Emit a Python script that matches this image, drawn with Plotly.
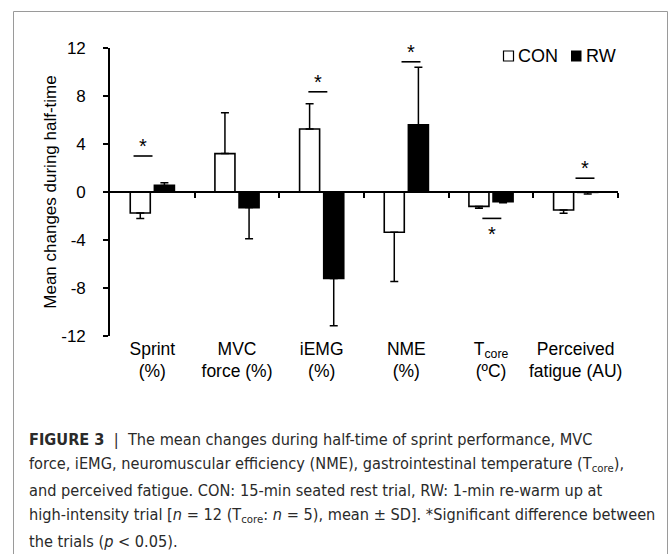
import plotly.graph_objects as go

# ---------------- data ----------------
categories = ["Sprint<br>(%)", "MVC<br>force (%)", "iEMG<br>(%)", "NME<br>(%)",
              "T<sub>core</sub><br>(ºC)", "Perceived<br>fatigue (AU)"]
con_mean = [-1.75, 3.2, 5.25, -3.35, -1.2, -1.5]
con_sd = [0.45, 3.4, 2.1, 4.1, 0.15, 0.28]
rw_mean = [0.55, -1.3, -7.2, 5.6, -0.8, -0.03]
rw_sd = [0.23, 2.6, 3.95, 4.8, 0.1, 0.14]

# significance markers: category index, horizontal offset, bar height, side
sig_cat = [0, 2, 3, 4, 5]
sig_dx = [-0.11, -0.045, 0.055, 0.01, 0.11]
sig_y = [3.0, 8.35, 10.85, -2.2, 1.15]
sig_side = ["above", "above", "above", "below", "above"]

y_ticks = [-12, -8, -4, 0, 4, 8, 12]
y_ticktext = ["-12", "-8", "-4", "0", "4", "8", "12"]

# ---------------- figure ----------------
W, H = 668, 554
ML, MR, MT, MB = 110, 50, 48, 218
PW, PH = W - ML - MR, H - MT - MB

def px_x(p):
    return (p - ML) / PW

def px_y(p):
    return (H - MB - p) / PH

FONT = "Liberation Sans, Arial, sans-serif"
CAP_FONT = "DejaVu Sans Condensed, Liberation Sans Narrow, Liberation Sans, sans-serif"

xs = list(range(len(categories)))

def one_sided(means, sds):
    up = [s if m >= 0 else 0 for m, s in zip(means, sds)]
    down = [s if m < 0 else 0 for m, s in zip(means, sds)]
    return up, down

con_up, con_down = one_sided(con_mean, con_sd)
rw_up, rw_down = one_sided(rw_mean, rw_sd)

fig = go.Figure()
fig.add_trace(go.Bar(
    x=xs, y=con_mean, name="CON",
    marker=dict(color="white", line=dict(color="black", width=1.6)),
    error_y=dict(type="data", symmetric=False, array=con_up, arrayminus=con_down,
                 color="black", thickness=1.5, width=4),
    showlegend=False,
))
fig.add_trace(go.Bar(
    x=xs, y=rw_mean, name="RW",
    marker=dict(color="black", line=dict(color="black", width=1.6)),
    error_y=dict(type="data", symmetric=False, array=rw_up, arrayminus=rw_down,
                 color="black", thickness=1.5, width=4),
    showlegend=False,
))
# invisible trace so the overlay axis (the x axis line at y = 0) is drawn
fig.add_trace(go.Scatter(x=[-0.5, 5.5], y=[0, 0], xaxis="x2", mode="lines",
                         line=dict(width=0, color="rgba(0,0,0,0)"),
                         hoverinfo="skip", showlegend=False))

shapes = []
annotations = []

# significance lines and asterisks
half = 0.112
for c, dx, yv, side in zip(sig_cat, sig_dx, sig_y, sig_side):
    xc = c + dx
    shapes.append(dict(type="line", xref="x", yref="y", x0=xc - half, x1=xc + half,
                       y0=yv, y1=yv, line=dict(color="black", width=1.6)))
    if side == "above":
        annotations.append(dict(x=xc, y=yv, xref="x", yref="y", text="*",
                                showarrow=False, yanchor="bottom", yshift=-3,
                                font=dict(family=FONT, size=20, color="black")))
    else:
        annotations.append(dict(x=xc, y=yv, xref="x", yref="y", text="*",
                                showarrow=False, yanchor="top", yshift=-3,
                                font=dict(family=FONT, size=20, color="black")))

# legend (open / filled squares + labels)
shapes.append(dict(type="rect", xref="paper", yref="paper",
                   x0=px_x(503.5), x1=px_x(513.5), y0=px_y(61), y1=px_y(51),
                   line=dict(color="black", width=1.2), fillcolor="white"))
shapes.append(dict(type="rect", xref="paper", yref="paper",
                   x0=px_x(571), x1=px_x(581.5), y0=px_y(61.5), y1=px_y(50.5),
                   line=dict(color="black", width=0), fillcolor="black"))
annotations.append(dict(x=px_x(516), y=px_y(56), xref="paper", yref="paper",
                        text="CON", showarrow=False, xanchor="left", yanchor="middle",
                        font=dict(family=FONT, size=18, color="black")))
annotations.append(dict(x=px_x(584), y=px_y(56), xref="paper", yref="paper",
                        text="RW", showarrow=False, xanchor="left", yanchor="middle",
                        font=dict(family=FONT, size=18, color="black")))

# outer frame (left, top, right edges)
frame = dict(color="#9a9a9a", width=1)
shapes.append(dict(type="line", xref="paper", yref="paper",
                   x0=px_x(13.5), x1=px_x(13.5), y0=px_y(554), y1=px_y(11.5), line=frame))
shapes.append(dict(type="line", xref="paper", yref="paper",
                   x0=px_x(13.5), x1=px_x(667.5), y0=px_y(11.5), y1=px_y(11.5), line=frame))
shapes.append(dict(type="line", xref="paper", yref="paper",
                   x0=px_x(667.5), x1=px_x(667.5), y0=px_y(554), y1=px_y(11.5), line=frame))

# caption
caption_lines = [
    "<b>FIGURE 3</b>&nbsp;&nbsp;|&nbsp;&nbsp;The mean changes during half-time of sprint performance, MVC",
    "force, iEMG, neuromuscular efficiency (NME), gastrointestinal temperature (T<sub>core</sub>),",
    "and perceived fatigue. CON: 15-min seated rest trial, RW: 1-min re-warm up at",
    "high-intensity trial [<i>n</i> = 12 (T<sub>core</sub>: <i>n</i> = 5), mean ± SD]. *Significant difference between",
    "the trials (<i>p</i> &lt; 0.05).",
]
cap_y = [439, 464.5, 490, 515.5, 541]
for txt, yy in zip(caption_lines, cap_y):
    annotations.append(dict(x=px_x(27), y=px_y(yy), xref="paper", yref="paper",
                            text=txt, showarrow=False, xanchor="left", yanchor="middle",
                            align="left",
                            font=dict(family=CAP_FONT, size=16.2, color="#2a2a2a")))

fig.update_layout(
    width=W, height=H,
    margin=dict(l=ML, r=MR, t=MT, b=MB, pad=0, autoexpand=False),
    paper_bgcolor="white", plot_bgcolor="white",
    barmode="group", bargap=0.43, bargroupgap=0.17,
    font=dict(family=FONT, size=17, color="black"),
    xaxis=dict(range=[-0.5, 5.5], tickvals=xs, ticktext=categories,
               showline=False, ticks="", showgrid=False, zeroline=False,
               tickfont=dict(family=FONT, size=17.5, color="black")),
    xaxis2=dict(overlaying="x", anchor="free", position=0.5, side="bottom",
                range=[-0.5, 5.5], tickvals=[0.5, 1.5, 2.5, 3.5, 4.5, 5.5],
                showticklabels=False, ticks="outside", ticklen=5, tickwidth=1.5,
                tickcolor="black", showline=True, linecolor="black", linewidth=1.6,
                showgrid=False, zeroline=False),
    yaxis=dict(range=[-12, 12], tickvals=y_ticks, ticktext=y_ticktext,
               ticks="outside", ticklen=5,
               tickwidth=1.5, tickcolor="black", showline=True, linecolor="black",
               linewidth=1.6, showgrid=False, zeroline=False, ticklabelstandoff=14,
               tickfont=dict(family=FONT, size=17, color="black"),
               title=dict(text="Mean changes during half-time", standoff=0,
                          font=dict(family=FONT, size=17, color="black"))),
    shapes=shapes, annotations=annotations,
)

fig.write_html("out.html", config={"displayModeBar": False},
               post_script="document.body.style.margin='0';")
